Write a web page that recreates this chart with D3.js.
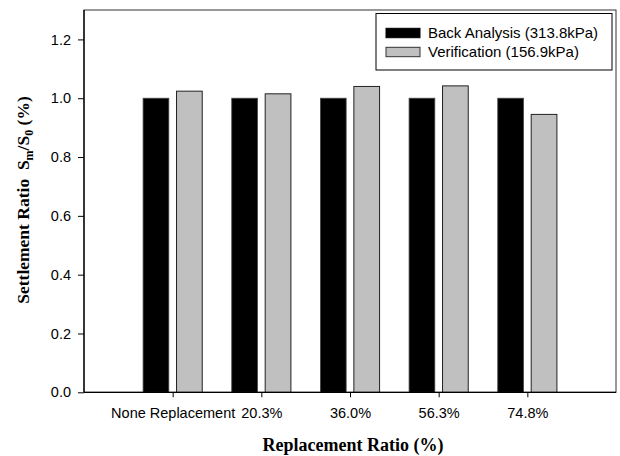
<!DOCTYPE html>
<html>
<head>
<meta charset="utf-8">
<script src="https://cdn.jsdelivr.net/npm/d3@7"></script>
<style>
  html, body { margin: 0; padding: 0; background: #fff; }
  svg { display: block; }
</style>
</head>
<body>
<svg id="chart" width="620" height="456"></svg>
<script>
// Replacement ratio categories and settlement ratios Sm/S0
const categories = ["None Replacement", "20.3%", "36.0%", "56.3%", "74.8%"];
const backAnalysis = [1.0, 1.0, 1.0, 1.0, 1.0];
const verification = [1.024, 1.015, 1.040, 1.042, 0.945];
const seriesNames = ["Back Analysis (313.8kPa)", "Verification (156.9kPa)"];
const yTicks = [0.0, 0.2, 0.4, 0.6, 0.8, 1.0, 1.2];

const sansFont = "'Liberation Sans', Arial, sans-serif";
const serifFont = "'Liberation Serif', 'Times New Roman', serif";

const svg = d3.select("#chart");
const plotL = 84, plotR = 616, plotT = 10, plotB = 392.3;

const x = d3.scaleLinear().domain([0, categories.length + 1]).range([plotL, plotR]);
const y = d3.scaleLinear().domain([0, 1.3]).range([plotB, plotT]);

const step = x(1) - x(0);
const bw = step * 0.29;
const gap = step * 0.087;

// plot frame
svg.append("rect")
  .attr("x", plotL).attr("y", plotT)
  .attr("width", plotR - plotL).attr("height", plotB - plotT)
  .attr("fill", "none").attr("stroke", "#333").attr("stroke-width", 1);

// bars
const g = svg.append("g");
g.selectAll("rect.back").data(backAnalysis).join("rect")
  .attr("class", "back")
  .attr("x", (d, i) => x(i + 1) - gap / 2 - bw)
  .attr("y", d => y(d))
  .attr("width", bw)
  .attr("height", d => y(0) - y(d))
  .attr("fill", "#000")
  .attr("stroke", "#444").attr("stroke-width", 0.8);

g.selectAll("rect.verif").data(verification).join("rect")
  .attr("class", "verif")
  .attr("x", (d, i) => x(i + 1) + gap / 2)
  .attr("y", d => y(d))
  .attr("width", bw)
  .attr("height", d => y(0) - y(d))
  .attr("fill", "#c0c0c0")
  .attr("stroke", "#222").attr("stroke-width", 1);

// axes
const yAxis = d3.axisLeft(y).tickValues(yTicks).tickFormat(d3.format(".1f"))
  .tickSize(6).tickPadding(7);
const yg = svg.append("g").attr("transform", `translate(${plotL},0)`).call(yAxis);

const xAxis = d3.axisBottom(x)
  .tickValues(d3.range(1, categories.length + 1))
  .tickFormat(d => categories[d - 1])
  .tickSize(5).tickPadding(10);
const xg = svg.append("g").attr("transform", `translate(0,${plotB})`).call(xAxis);

[yg, xg].forEach(a => {
  a.select(".domain").attr("stroke", "#000").attr("stroke-width", 1.3);
  a.selectAll(".tick line").attr("stroke", "#000").attr("stroke-width", 1);
  a.selectAll(".tick text")
    .attr("font-family", sansFont)
    .attr("font-size", "14.5px").attr("fill", "#000");
});
xg.select(".domain").attr("d", `M${plotL},0H${plotR}`);
yg.select(".domain").attr("d", `M0,${plotB}V${plotT}`);

// axis titles
svg.append("text")
  .attr("x", 353).attr("y", 451)
  .attr("text-anchor", "middle")
  .attr("font-family", serifFont)
  .attr("font-weight", "bold").attr("font-size", "18px")
  .text("Replacement Ratio (%)");

const yt = svg.append("text")
  .attr("transform", "translate(29,200) rotate(-90)")
  .attr("text-anchor", "middle")
  .attr("font-family", serifFont)
  .attr("font-weight", "bold").attr("font-size", "17.5px");
yt.append("tspan").text("Settlement Ratio\u00a0\u00a0S");
yt.append("tspan").attr("dy", 4).attr("font-size", "12px").text("m");
yt.append("tspan").attr("dy", -4).text("/S");
yt.append("tspan").attr("dy", 4).attr("font-size", "12px").text("0");
yt.append("tspan").attr("dy", -4).text(" (%)");

// legend
const lg = svg.append("g");
lg.append("rect")
  .attr("x", 376).attr("y", 13.5).attr("width", 236).attr("height", 56.5)
  .attr("fill", "#fff").attr("stroke", "#000").attr("stroke-width", 1);
const legendFills = ["#000", "#c0c0c0"];
const legendStrokes = ["#000", "#333"];
seriesNames.forEach((name, i) => {
  lg.append("rect")
    .attr("x", 386).attr("y", 28.3 + i * 19)
    .attr("width", 34).attr("height", 9.4)
    .attr("fill", legendFills[i]).attr("stroke", legendStrokes[i]).attr("stroke-width", 1);
  lg.append("text")
    .attr("x", 428).attr("y", 38.3 + i * 19)
    .attr("font-family", sansFont)
    .attr("font-size", "15px").attr("fill", "#000")
    .text(name);
});
</script>
</body>
</html>
